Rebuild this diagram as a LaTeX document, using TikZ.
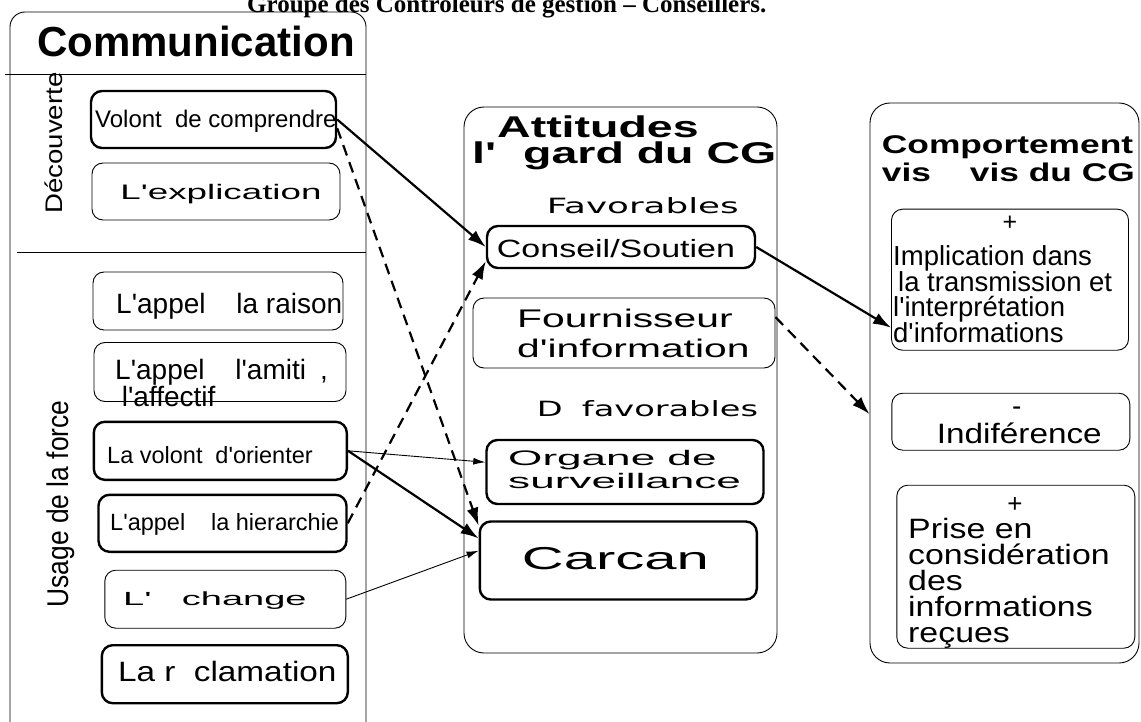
\documentclass[tikz,border=0pt]{standalone}
\usepackage{graphicx}
\usepackage{fontspec}
\setmainfont{Liberation Sans}[Ligatures=TeXOff]
\newfontfamily\titrefont{Liberation Serif}
\newfontfamily\mainfont{DejaVu Sans}[Ligatures=TeXOff]
\usetikzlibrary{arrows.meta}
\newcommand{\fs}[2]{\fontsize{#1}{#2}\selectfont}
\newcommand{\etire}[2]{\scalebox{#1}[1]{#2}}
\tikzset{
  boite/.style={draw, rounded corners=11pt, line width=0.9pt, inner sep=0pt},
  boitegrasse/.style={boite, line width=2.4pt},
  cadre/.style={draw, rounded corners=20pt, line width=0.9pt, inner sep=0pt},
  txt/.style={inner sep=0pt},
  fleche/.style={->, line width=2.2pt},
  flechefine/.style={-{Latex[length=12pt,width=7pt]}, line width=0.9pt},
  pointille/.style={->, line width=2.2pt, dash pattern=on 11pt off 7pt},
}
\begin{document}
\begin{tikzpicture}[x=1pt, y=-1pt, >={Latex[length=18pt,width=12pt]}]
  \useasboundingbox (0,0) rectangle (1141,722);

  % Title
  \node[txt, anchor=base west, font=\titrefont\bfseries\fs{25}{28}] (titre) at (247,12.5)
    {Groupe des Controleurs de gestion – Conseillers.};

  % Communication column
  \draw[line width=0.9pt, rounded corners=15pt] (10,722) -- (10,12) -- (366,12) -- (366,722);
  \draw[line width=0.9pt] (5,74) -- (366,74);
  \draw[line width=0.9pt] (17,252.5) -- (366,252.5);
  \node[txt, anchor=base, font=\bfseries\fs{42}{46}] (communication) at (196,57) {Communication};
  \node[txt, anchor=base, rotate=90, font=\fs{24}{24}] (decouverte) at (62,143) {\etire{1.15}{Découverte}};
  \node[txt, anchor=base, rotate=90, font=\fs{30}{30}] (usage) at (68.5,504) {\etire{0.88}{Usage de la force}};

  % Left boxes
  \node[boitegrasse, minimum width=245pt, minimum height=57pt] (volont) at (213.5,119.5) {};
  \node[boite, minimum width=248pt, minimum height=57pt] (explication) at (216,191.5) {};
  \node[boite, minimum width=250pt, minimum height=58pt] (raison) at (218,301) {};
  \node[boite, minimum width=252pt, minimum height=59pt] (amitie) at (220,372) {};
  \node[boitegrasse, minimum width=253pt, minimum height=58pt] (orienter) at (220.3,450.8) {};
  \node[boitegrasse, minimum width=248pt, minimum height=57pt] (hierarchie) at (222.5,523.3) {};
  \node[boite, minimum width=241pt, minimum height=58pt] (change) at (225.3,599.2) {};
  \node[boitegrasse, minimum width=246pt, minimum height=58pt] (reclamation) at (224.8,674.2) {};

  \node[txt, anchor=base west, font=\fs{24}{26}] (volonttxt) at (95,128) {Volont\hspace{.55em}de comprendre};
  \node[txt, anchor=base, font=\fs{21}{24}] (explicationtxt) at (221,200) {\etire{1.75}{L'explication}};
  \node[txt, anchor=base west, font=\fs{28}{30}] (raisontxt) at (116,313) {L'appel\hspace{1.1em}la raison};
  \node[txt, anchor=north west, align=left, font=\fs{28}{17.7}] (amitietxt) at (115,359)
    {L'appel\hspace{1.1em}l'amiti\hspace{.5em},\\\hspace{6.7pt}l'affectif};
  \node[txt, anchor=base west, font=\fs{23.5}{26}] (orientertxt) at (107,463.3) {La volont\hspace{.55em}d'orienter};
  \node[txt, anchor=base west, font=\fs{23.5}{26}] (hierarchietxt) at (110,530) {L'appel\hspace{1.1em}la hierarchie};
  \node[txt, anchor=base west, font=\fs{19}{22}] (changetxt) at (123,605) {\etire{2.0}{L'\hspace{.8em}change}};
  \node[txt, anchor=base west, font=\fs{28}{30}] (reclamationtxt) at (118,681.7) {\etire{1.19}{La r\hspace{.55em}clamation}};

  % Attitudes column
  \node[cadre, minimum width=313pt, minimum height=546pt] (attitudes) at (620.5,380) {};
  \node[txt, anchor=north west, align=left, font=\bfseries\fs{30}{26.3}] (attitudestxt) at (472,115.2)
    {\hspace{25pt}\etire{1.55}{Attitudes}\\\etire{1.55}{l'\hspace{.58em}gard du CG}};
  \node[txt, anchor=base west, font=\mainfont\fs{21}{24}] (favorables) at (546.7,213.3) {\etire{1.7}{Favorables}};
  \node[txt, anchor=base west, font=\mainfont\fs{21}{24}] (defavorables) at (536.7,416.7) {\etire{1.6}{D\hspace{12pt}favorables}};

  \node[boitegrasse, minimum width=268pt, minimum height=42pt] (conseil) at (621,247) {};
  \node[boite, minimum width=302pt, minimum height=70pt] (fournisseur) at (624,333) {};
  \node[boitegrasse, minimum width=277pt, minimum height=64pt] (organe) at (625,472) {};
  \node[boitegrasse, minimum width=277pt, minimum height=78pt] (carcan) at (618.3,560.5) {};

  \node[txt, anchor=base west, font=\fs{25}{28}] (conseiltxt) at (496.7,258) {\etire{1.36}{Conseil/Soutien}};
  \node[txt, anchor=north west, align=left, font=\fs{25.5}{30.6}] (fournisseurtxt) at (517,308.4)
    {\etire{1.6}{Fournisseur}\\\etire{1.6}{d'information}};
  \node[txt, anchor=north west, align=left, font=\fs{21}{23.3}] (organetxt) at (508,449.7)
    {\etire{2.1}{Organe de}\\\etire{2.1}{surveillance}};
  \node[txt, anchor=base west, font=\fs{31.7}{34}] (carcantxt) at (521.7,569.3) {\etire{1.83}{Carcan}};

  % Comportement column
  \node[cadre, minimum width=269pt, minimum height=560pt] (comportement) at (1004.5,383) {};
  \node[txt, anchor=north west, align=left, font=\bfseries\fs{25.6}{28.4}] (comportementtxt) at (881.7,135)
    {\etire{1.38}{Comportement}\\\etire{1.38}{vis\hspace{1.1em}vis du CG}};

  \node[boite, minimum width=237pt, minimum height=141pt] (implication) at (1010,279.7) {};
  \node[boite, minimum width=238pt, minimum height=57pt] (indifference) at (1010.8,421.7) {};
  \node[boite, minimum width=238pt, minimum height=163pt] (prise) at (1015.8,566.7) {};

  \node[txt, anchor=base, font=\fs{25}{28}] (plusA) at (1010,231) {+};
  \node[txt, anchor=north west, align=left, font=\fs{27.5}{24.4}] (implicationtxt) at (893,245)
    {Implication dans\\\hspace{5pt}la transmission et\\l'interprétation\\d'informations};
  \node[txt, anchor=base, font=\fs{28}{30}] (moins) at (1016.7,415.9) {-};
  \node[txt, anchor=base west, font=\fs{28}{30}] (indifferencetxt) at (936.7,443.3) {\etire{1.19}{Indiférence}};
  \node[txt, anchor=base, font=\fs{26}{28}] (plusB) at (1015,512) {+};
  \node[txt, anchor=north west, align=left, font=\fs{28}{25.9}] (prisetxt) at (908,518)
    {\etire{1.21}{Prise en}\\\etire{1.21}{considération}\\\etire{1.21}{des}\\\etire{1.21}{informations}\\\etire{1.21}{reçues}};

  % Arrows to the attitudes
  \draw[fleche] (volont.east) -- (conseil.west);
  \draw[pointille] (volont.-4) -- (carcan.166);
  \draw[pointille] (hierarchie.east) -- (conseil.186);
  \draw[flechefine] (orienter.east) -- (organe.176);
  \draw[fleche] (orienter.east) -- (carcan.171);
  \draw[flechefine] (change.east) -- (carcan.176);

  % Arrows to the behaviours
  \draw[fleche] (conseil.east) -- (implication.202);
  \draw[pointille] (fournisseur.6) -- (comportement.193);
\end{tikzpicture}
\end{document}
